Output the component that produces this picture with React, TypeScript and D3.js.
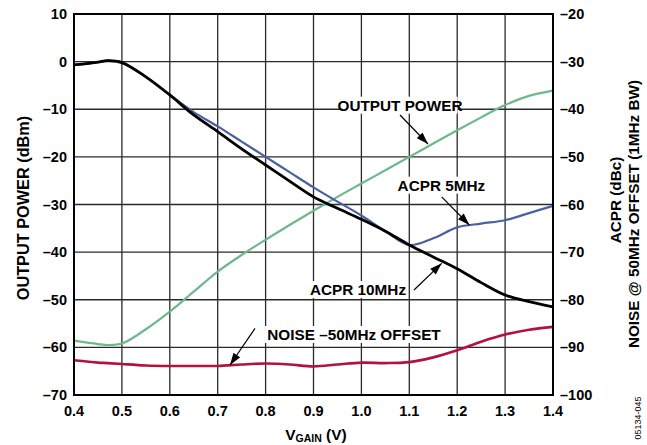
import React from "react";
import * as d3 from "d3";

const vgain = [0.4, 0.45, 0.47, 0.5, 0.55, 0.6, 0.65, 0.7, 0.75, 0.8, 0.85, 0.9, 0.95, 1.0, 1.05, 1.1, 1.15, 1.2, 1.25, 1.3, 1.35, 1.4];
// OUTPUT POWER (dBm), left axis
const outputPower = [-58.6, -59.3, -59.5, -59.2, -56.2, -52.5, -48.3, -44.1, -40.6, -37.4, -34.3, -31.3, -28.4, -25.6, -22.8, -20.0, -17.2, -14.4, -11.7, -9.1, -7.2, -6.1];
// ACPR 10MHz (dBc), right axis
const acpr10 = [-30.7, -30.1, -29.8, -30.2, -33.2, -37.0, -41.2, -44.7, -48.3, -51.7, -55.1, -58.4, -60.8, -63.1, -65.6, -68.5, -71.0, -73.5, -76.4, -79.0, -80.4, -81.5];
// ACPR 5MHz (dBc), right axis
const acpr5 = [-30.7, -30.1, -29.8, -30.2, -33.2, -37.0, -40.6, -43.6, -46.8, -50.0, -53.2, -56.4, -59.4, -62.3, -65.6, -68.5, -67.1, -64.8, -64.0, -63.3, -61.8, -60.3];
// NOISE @ 50MHz offset (dBm), left axis
const noise = [-62.7, -63.2, -63.3, -63.5, -63.8, -63.9, -63.9, -63.9, -63.6, -63.4, -63.6, -64.0, -63.6, -63.2, -63.3, -63.1, -62.1, -60.6, -58.8, -57.3, -56.3, -55.7];

const xTicks = [0.4, 0.5, 0.6, 0.7, 0.8, 0.9, 1.0, 1.1, 1.2, 1.3, 1.4];
const leftTicks = [10, 0, -10, -20, -30, -40, -50, -60, -70];
const rightTicks = [-20, -30, -40, -50, -60, -70, -80, -90, -100];

const annotations = [
  { text: "OUTPUT POWER", tx: 1.0806, ty: -9.25, ax1: 1.0806, ay1: -11.2, ax2: 1.139, ay2: -17.3 },
  { text: "ACPR 5MHz", tx: 1.167, ty: -26.05, ax1: 1.1676, ay1: -28.4, ax2: 1.2253, ay2: -34.3 },
  { text: "ACPR 10MHz", tx: 0.993, ty: -47.95, ax1: 1.1098, ay1: -47.95, ax2: 1.1676, ay2: -42.35 },
  { text: "NOISE \u201350MHz OFFSET", tx: 0.9846, ty: -57.4, ax1: 0.7779, ay1: -56.0, ax2: 0.7257, ay2: -63.7 },
];

const W = 647, H = 445;
const L = 74, R = 553, T = 14, B = 395;
const FONT = "'Liberation Sans', Arial, Helvetica, sans-serif";

export default function App() {
  const x = d3.scaleLinear().domain([0.4, 1.4]).range([L, R]);
  const yL = d3.scaleLinear().domain([-70, 10]).range([B, T]);
  const yR = d3.scaleLinear().domain([-100, -20]).range([B, T]);

  const curve = d3.curveCatmullRom.alpha(0.5);
  const lineL = d3.line<number>().x((_, i) => x(vgain[i])).y((d) => yL(d)).curve(curve);
  const lineR = d3.line<number>().x((_, i) => x(vgain[i])).y((d) => yR(d)).curve(curve);

  const fs = 14.5;
  return (
    <svg width={W} height={H} style={{ position: "absolute", left: 0, top: 0, background: "#fff" }} fontFamily={FONT}>
      <defs>
        <marker id="ah" viewBox="0 0 12 8" refX="12" refY="4" markerWidth="13" markerHeight="8" markerUnits="userSpaceOnUse" orient="auto">
          <path d="M0,0 L12,4 L0,8 Z" fill="#000" />
        </marker>
      </defs>
      <rect x={0} y={0} width={W} height={H} fill="#fff" />
      {/* grid */}
      {xTicks.map((t) => (
        <line key={"gx" + t} x1={x(t)} x2={x(t)} y1={T} y2={B} stroke="#2a2a2a" strokeWidth={1.3} />
      ))}
      {leftTicks.map((t) => (
        <line key={"gy" + t} x1={L} x2={R} y1={yL(t)} y2={yL(t)} stroke="#2a2a2a" strokeWidth={1.3} />
      ))}
      {/* annotation backgrounds */}
      {annotations.map((a) => {
        const w = a.text.length * 9.1;
        return <rect key={"bg" + a.text} x={x(a.tx) - w / 2 - 3} y={yL(a.ty) - 9} width={w + 6} height={17} fill="#fff" />;
      })}
      {/* series */}
      <path d={lineL(outputPower) || ""} fill="none" stroke="#6db88f" strokeWidth={2.2} />
      <path d={lineL(noise) || ""} fill="none" stroke="#b3123f" strokeWidth={2.6} />
      <path d={lineR(acpr5) || ""} fill="none" stroke="#4a61a0" strokeWidth={2.2} />
      <path d={lineR(acpr10) || ""} fill="none" stroke="#000" strokeWidth={2.8} />
      {/* frame */}
      <rect x={L} y={T} width={R - L} height={B - T} fill="none" stroke="#000" strokeWidth={2} />
      {/* annotations */}
      {annotations.map((a) => (
        <g key={"an" + a.text}>
          <text x={x(a.tx)} y={yL(a.ty)} textAnchor="middle" dominantBaseline="central" fontWeight="bold" fontSize={15.3}>
            {a.text}
          </text>
          <line x1={x(a.ax1)} y1={yL(a.ay1)} x2={x(a.ax2)} y2={yL(a.ay2)} stroke="#000" strokeWidth={1.2} markerEnd="url(#ah)" />
        </g>
      ))}
      {/* left ticks */}
      {leftTicks.map((t) => (
        <text key={"lt" + t} x={L - 7} y={yL(t)} textAnchor="end" dominantBaseline="central" fontWeight="bold" fontSize={fs}>
          {t < 0 ? "\u2013" + Math.abs(t) : t}
        </text>
      ))}
      {rightTicks.map((t) => (
        <text key={"rt" + t} x={R + 7} y={yR(t)} textAnchor="start" dominantBaseline="central" fontWeight="bold" fontSize={fs}>
          {"\u2013" + Math.abs(t)}
        </text>
      ))}
      {xTicks.map((t) => (
        <text key={"xt" + t} x={x(t)} y={B + 16} textAnchor="middle" dominantBaseline="central" fontWeight="bold" fontSize={fs}>
          {t.toFixed(1)}
        </text>
      ))}
      {/* axis titles */}
      <text x={316} y={434} textAnchor="middle" fontWeight="bold" fontSize={15.5} dominantBaseline="central">
        V<tspan fontSize={10.5} dy={3.5}>GAIN</tspan>
        <tspan dy={-3.5}> (V)</tspan>
      </text>
      <text transform="translate(23,208) rotate(-90)" textAnchor="middle" dominantBaseline="central" fontWeight="bold" fontSize={16.3}>
        OUTPUT POWER (dBm)
      </text>
      <text transform="translate(615,200) rotate(-90)" textAnchor="middle" dominantBaseline="central" fontWeight="bold" fontSize={15.3}>
        ACPR (dBc)
      </text>
      <text transform="translate(633,214) rotate(-90)" textAnchor="middle" dominantBaseline="central" fontWeight="bold" fontSize={15.3}>
        NOISE @ 50MHz OFFSET (1MHz BW)
      </text>
      <text transform="translate(638,418) rotate(-90)" textAnchor="middle" dominantBaseline="central" fontSize={9}>
        05134-045
      </text>
    </svg>
  );
}
